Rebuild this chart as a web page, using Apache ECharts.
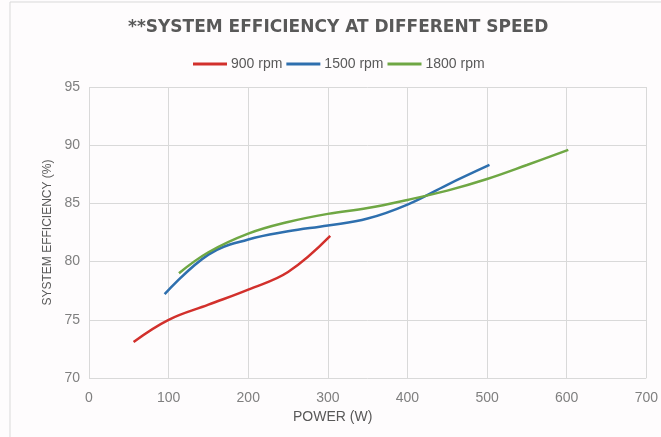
<!DOCTYPE html>
<html><head><meta charset="utf-8">
<script src="https://cdn.jsdelivr.net/npm/echarts@6/dist/echarts.min.js"></script>
<style>html,body{margin:0;padding:0;background:#fefcfd}#c{width:661px;height:437px}</style>
</head><body><div id="c"></div>
<script>
const titleText = "**SYSTEM EFFICIENCY AT DIFFERENT SPEED";
const seriesNames = ["900 rpm", "1500 rpm", "1800 rpm"];
const rpm900 = [[56, 73.1], [100, 75.0], [150, 76.3], [200, 77.6], [250, 79.1], [303, 82.2]];
const rpm1500 = [[95, 77.2], [150, 80.6], [200, 81.9], [250, 82.6], [300, 83.1], [350, 83.7], [400, 84.9], [450, 86.6], [503, 88.3]];
const rpm1800 = [[113, 79.0], [150, 80.8], [200, 82.4], [250, 83.4], [300, 84.1], [350, 84.6], [400, 85.3], [450, 86.1], [500, 87.1], [550, 88.3], [602, 89.6]];
const xTicks = [0, 100, 200, 300, 400, 500, 600, 700];
const yTicks = [70, 75, 80, 85, 90, 95];
const colors = ["#d2302c", "#2e6fae", "#6fa744"];

const chart = echarts.init(document.getElementById('c'), null, {renderer: 'canvas'});
const font = "'Liberation Sans', 'DejaVu Sans', sans-serif";
chart.setOption({
  backgroundColor: '#fefcfd',
  animation: false,
  color: colors,
  graphic: [{type: 'rect', shape: {x: 10, y: 2, width: 700, height: 500}, style: {fill: 'none', stroke: '#d9d9d9', lineWidth: 1}, silent: true}],
  title: {text: titleText, left: 123, top: 14, textStyle: {fontFamily: "'DejaVu Sans', sans-serif", fontSize: 17, fontWeight: 'bold', color: '#595959'}},
  legend: {top: 52, left: 188, itemWidth: 34, itemHeight: 3, itemGap: 4, icon: 'rect',
    textStyle: {fontFamily: font, fontSize: 14, color: '#595959', padding: [0, 0, 0, -1]}, data: seriesNames},
  grid: {left: 89, right: 13, top: 87, bottom: 59},
  xAxis: {type: 'value', min: 0, max: 700, interval: 100, name: 'POWER (W)', nameLocation: 'middle', nameGap: 32,
    nameTextStyle: {fontFamily: font, fontSize: 14, color: '#595959', padding: [0, 70, 0, 0]},
    axisLine: {show: false}, axisTick: {show: false},
    axisLabel: {fontFamily: font, fontSize: 14, color: '#7f7f7f', margin: 13},
    splitLine: {show: true, lineStyle: {color: '#d9d9d9', width: 1}}},
  yAxis: {type: 'value', min: 70, max: 95, interval: 5, name: 'SYSTEM EFFICIENCY (%)', nameLocation: 'middle', nameGap: 29,
    nameTextStyle: {fontFamily: font, fontSize: 12, color: '#595959'},
    axisLine: {show: false}, axisTick: {show: false},
    axisLabel: {fontFamily: font, fontSize: 14, color: '#7f7f7f', margin: 9},
    splitLine: {show: true, lineStyle: {color: '#d9d9d9', width: 1}}},
  series: [
    {name: seriesNames[0], type: 'line', data: rpm900, smooth: 0.4, showSymbol: false, lineStyle: {width: 2.5}},
    {name: seriesNames[1], type: 'line', data: rpm1500, smooth: 0.4, showSymbol: false, lineStyle: {width: 2.5}},
    {name: seriesNames[2], type: 'line', data: rpm1800, smooth: 0.4, showSymbol: false, lineStyle: {width: 2.5}}
  ]
});
</script></body></html>
